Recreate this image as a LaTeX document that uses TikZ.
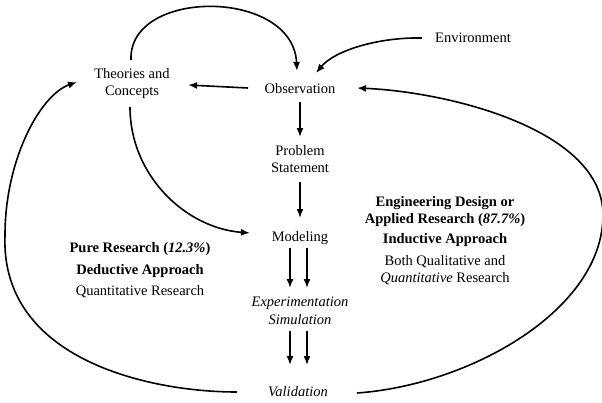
\documentclass[tikz,border=0pt]{standalone}
\usepackage{fontspec}
\setmainfont{Liberation Serif}
\usetikzlibrary{arrows.meta}
\begin{document}
\begin{tikzpicture}[x=1pt,y=-1pt,
  lbl/.style={inner sep=0pt,align=center,font=\fontsize{14.5}{17}\selectfont},
  arr/.style={line width=1.6pt,-{Latex[length=9pt,width=7pt]}},
  con/.style={line width=1.6pt}]
\useasboundingbox (0,0) rectangle (602,402);
% nodes
\node[lbl] (thc) at (132,84) {Theories and\\Concepts};
\node[lbl] (obs) at (300,88.5) {Observation};
\node[lbl] (env) at (473,38) {Environment};
\node[lbl] (prob) at (300,159) {Problem\\Statement};
\node[lbl] (mod) at (300,238) {Modeling};
\node[lbl,font=\fontsize{14.5}{18.5}\selectfont\itshape] (exp) at (300,311) {Experimentation\\Simulation};
\node[lbl,font=\fontsize{14.5}{17}\selectfont\itshape] (val) at (298,392) {Validation};
\node[lbl] (pure) at (140,270.5) {\textbf{Pure Research (\textit{12.3\%})}\\[4.5pt]\textbf{Deductive Approach}\\[4.5pt]Quantitative Research};
\node[lbl] (appl) at (445,241) {\textbf{Engineering Design or}\\\textbf{Applied Research (\textit{87.7\%})}\\[3pt]\textbf{Inductive Approach}\\[5pt]Both Qualitative and\\\textit{Quantitative} Research};
% connectors
\draw[arr] ([shift={(-1,-24)}]thc.center) .. controls (128,-12) and (293,-12) .. ([shift={(-3,-17.5)}]obs.center);
\draw[arr] ([shift={(-51,0)}]env.center) .. controls (380,37) and (335,50) .. ([shift={(16,-15.5)}]obs.center);
\draw[arr] ([shift={(-52,-0.5)}]obs.center) -- ([shift={(56,1)}]thc.center);
\draw[arr] ([shift={(0,13.5)}]obs.center) -- ([shift={(0,-22)}]prob.center);
\draw[arr] ([shift={(0,23)}]prob.center) -- ([shift={(0,-20)}]mod.center);
\draw[arr] ([shift={(-2,23)}]thc.center) .. controls (130,175) and (185,228) .. ([shift={(-50,-5)}]mod.center);
\draw[arr] ([shift={(-10,10)}]mod.center) -- ([shift={(-10,-23)}]exp.center);
\draw[arr] ([shift={(7,10)}]mod.center) -- ([shift={(7,-23)}]exp.center);
\draw[arr] ([shift={(-10,20)}]exp.center) -- ([shift={(-8,-27)}]val.center);
\draw[arr] ([shift={(7,20)}]exp.center) -- ([shift={(9,-27)}]val.center);
\draw[arr] ([shift={(-61,0)}]val.center) .. controls (150,392) and (0,360) .. (5,235)
  .. controls (5,160) and (40,95) .. ([shift={(-55,-2)}]thc.center);
\draw[arr] ([shift={(59,1)}]val.center) .. controls (470,385) and (603,310) .. (603,215)
  .. controls (603,130) and (450,92) .. ([shift={(57,-0.5)}]obs.center);
\end{tikzpicture}
\end{document}
